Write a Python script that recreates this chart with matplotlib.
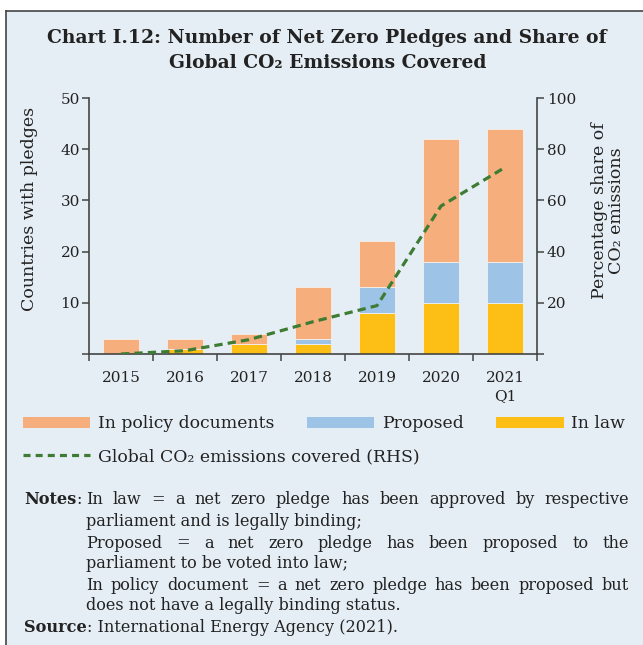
import matplotlib
matplotlib.use('Agg')
import matplotlib.pyplot as plt
import numpy as np
from matplotlib.patches import Patch, Rectangle
from matplotlib.lines import Line2D

plt.rcParams['font.family'] = ['DejaVu Serif', 'DejaVu Sans']

# Data
years = ['2015', '2016', '2017', '2018', '2019', '2020', '2021\nQ1']
in_law = [0, 1, 2, 2, 8, 10, 10]
proposed = [0, 0, 0, 1, 5, 8, 8]
in_policy = [3, 2, 2, 10, 9, 24, 26]
co2_share = [0, 1.3, 5.6, 12.6, 18.9, 57.8, 72.9]

note_lines = [
    ('In law = a net zero pledge has been approved by respective', True),
    ('parliament and is legally binding;', False),
    ('Proposed = a net zero pledge has been proposed to the', True),
    ('parliament to be voted into law;', False),
    ('In policy document = a net zero pledge has been proposed but', True),
    ('does not have a legally binding status.', False),
]
source_text = ': International Energy Agency (2021).'

c_policy = '#F5AE7C'
c_prop = '#9DC3E6'
c_law = '#FDBF15'
c_line = '#3E7C34'
bg = '#E6EEF5'
dark = '#222222'

W, H = 643, 645


def fx(px):
    return px / W


def fy(py):
    return 1 - py / H


fig = plt.figure(figsize=(W / 100, H / 100), dpi=100)
fig.patch.set_facecolor('white')
fig.patches.append(Rectangle((fx(6), 0), 1 - fx(6), fy(11), transform=fig.transFigure,
                             facecolor=bg, edgecolor='none', zorder=-10))
fig.lines.append(Line2D([fx(6), fx(6)], [0, fy(11)], transform=fig.transFigure, color='#444444', lw=1.2))
fig.lines.append(Line2D([fx(6), 1], [fy(11), fy(11)], transform=fig.transFigure, color='#444444', lw=1.2))

# title
fig.text(fx(327), fy(38), 'Chart I.12: Number of Net Zero Pledges and Share of',
         ha='center', va='center', fontsize=13.5, fontweight='bold', color=dark)
fig.text(fx(328), fy(63), 'Global CO\u2082 Emissions Covered',
         ha='center', va='center', fontsize=13.5, fontweight='bold', color=dark)

ax = fig.add_axes([fx(89), fy(354), (537 - 89) / W, (354 - 98) / H])
ax.set_facecolor('none')
x = np.arange(len(years))
bw = 0.57
ax.bar(x, in_law, bw, color=c_law, edgecolor='#f6f6f6', linewidth=0.5)
ax.bar(x, proposed, bw, bottom=in_law, color=c_prop, edgecolor='#f6f6f6', linewidth=0.5)
base = np.array(in_law) + np.array(proposed)
ax.bar(x, in_policy, bw, bottom=base, color=c_policy, edgecolor='#f6f6f6', linewidth=0.5)
ax.set_xlim(-0.5, len(years) - 0.5)
ax.set_ylim(0, 50)

ax.set_xticks(np.arange(-0.5, len(years), 1))
ax.set_xticklabels([])
ax.set_xticks(x, labels=years, minor=True)
ax.tick_params(axis='x', which='major', length=5, width=1.1, color='#444444')
ax.tick_params(axis='x', which='minor', length=0, pad=12, labelsize=11, labelcolor=dark)
for t in ax.get_xticklabels(minor=True):
    t.set_linespacing(1.45)
    t.set_verticalalignment('top')
ax.set_yticks(range(0, 51, 10), labels=[''] + [str(v) for v in range(10, 51, 10)])
ax.tick_params(axis='y', length=5, width=1.1, color='#444444', pad=1.5, labelsize=11, labelcolor=dark)
for s in ['top', 'right']:
    ax.spines[s].set_visible(False)
for s in ['left', 'bottom']:
    ax.spines[s].set_color('#444444')
    ax.spines[s].set_linewidth(1.2)

ax2 = ax.twinx()
ax2.plot(x, co2_share, color=c_line, lw=2.3, linestyle=(0, (2.6, 1.6)))
ax2.set_ylim(0, 100)
ax2.set_yticks(range(0, 101, 20), labels=[''] + [str(v) for v in range(20, 101, 20)])
ax2.tick_params(axis='y', length=5, width=1.1, color='#444444', pad=2, labelsize=11, labelcolor=dark)
for s in ['top', 'left', 'bottom']:
    ax2.spines[s].set_visible(False)
ax2.spines['right'].set_color('#444444')
ax2.spines['right'].set_linewidth(1.2)

fig.text(fx(30), fy(209), 'Countries with pledges', rotation=90, ha='center', va='center',
         fontsize=12.5, color=dark)
fig.text(fx(608), fy(211), 'Percentage share of\nCO\u2082 emissions', rotation=90, ha='center',
         va='center', fontsize=12.5, color=dark, multialignment='center', linespacing=1.0)

# legends
h1 = [Patch(facecolor=c_policy, label='In policy documents'),
      Patch(facecolor=c_prop, label='Proposed'),
      Patch(facecolor=c_law, label='In law')]
leg1 = fig.legend(handles=h1, loc='center left', bbox_to_anchor=(fx(23), fy(424)), ncol=3,
                  frameon=False, fontsize=12.4, handlelength=3.9, handleheight=0.62,
                  handletextpad=0.45, columnspacing=1.9, borderpad=0, borderaxespad=0)
for t in leg1.get_texts():
    t.set_color(dark)
h2 = [Line2D([], [], color=c_line, lw=2.3, linestyle=(0, (2.2, 1.6)),
             label='Global CO\u2082 emissions covered (RHS)')]
leg2 = fig.legend(handles=h2, loc='center left', bbox_to_anchor=(fx(23), fy(457)),
                  frameon=False, fontsize=12.4, handlelength=3.9, handletextpad=0.45,
                  borderpad=0, borderaxespad=0)
for t in leg2.get_texts():
    t.set_color(dark)

# notes, justified like the original
renderer = fig.canvas.get_renderer()
note_size = 11.6
note_x0, note_x1 = 86, 629
note_y = [500, 521, 543, 564, 586, 606]


def put_line(text, y, justify):
    if not justify:
        fig.text(fx(note_x0), fy(y), text, ha='left', va='center', fontsize=note_size, color=dark)
        return
    words = text.split(' ')
    ts = [fig.text(0, fy(y), w, ha='left', va='center', fontsize=note_size, color=dark) for w in words]
    widths = [t.get_window_extent(renderer).width for t in ts]
    gap = (note_x1 - note_x0 - sum(widths)) / (len(words) - 1)
    pos = note_x0
    for t, w in zip(ts, widths):
        t.set_x(fx(pos))
        pos += w + gap


for (txt, just), yy in zip(note_lines, note_y):
    put_line(txt, yy, just)

nb = fig.text(fx(24), fy(500), 'Notes', ha='left', va='center', fontsize=note_size,
              fontweight='bold', color=dark)
nb_w = nb.get_window_extent(renderer).width
fig.text(fx(24 + nb_w), fy(500), ':', ha='left', va='center', fontsize=note_size, color=dark)

sb = fig.text(fx(24), fy(627), 'Source', ha='left', va='center', fontsize=note_size,
              fontweight='bold', color=dark)
sb_w = sb.get_window_extent(renderer).width
fig.text(fx(24 + sb_w), fy(627), source_text, ha='left', va='center', fontsize=note_size, color=dark)

fig.savefig('out.png', dpi=100)
